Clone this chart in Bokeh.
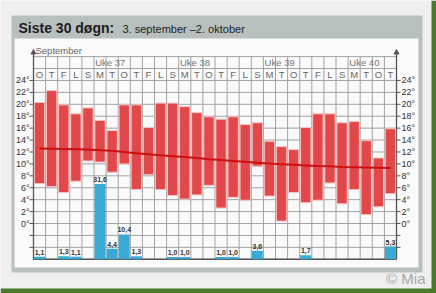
from bokeh.plotting import figure
from bokeh.models import Range1d
from bokeh.core.properties import value
from bokeh.embed import file_html
from bokeh.resources import INLINE

# ---------------- data ----------------
weekdays = ["O", "T", "F", "L", "S", "M", "T",
            "O", "T", "F", "L", "S", "M", "T",
            "O", "T", "F", "L", "S", "M", "T",
            "O", "T", "F", "L", "S", "M", "T",
            "O", "T"]
week_labels = ["Uke 37", "Uke 38", "Uke 39", "Uke 40"]
week_start_day = [5, 12, 19, 26]
t_max = [20.3, 22.3, 19.9, 18.4, 19.4, 17.3, 15.6, 19.9, 19.9, 16.1,
         20.2, 20.2, 19.6, 18.6, 17.9, 17.5, 17.9, 16.6, 16.9, 13.8,
         12.9, 12.4, 16.1, 18.4, 18.4, 16.9, 17.1, 13.9, 11.0, 15.9]
t_min = [6.7, 6.2, 5.2, 7.1, 10.5, 10.3, 8.6, 10.0, 5.7, 8.2,
         5.7, 4.7, 4.1, 4.8, 6.4, 2.6, 4.4, 3.9, 9.6, 4.6,
         0.4, 5.2, 3.5, 3.9, 6.8, 3.3, 5.7, 1.5, 2.8, 5.0]
t_normal = [12.6, 12.55, 12.5, 12.45, 12.4, 12.3, 12.2, 12.0, 11.8, 11.6,
            11.45, 11.3, 11.15, 11.0, 10.8, 10.65, 10.5, 10.35, 10.2, 10.05,
            9.95, 9.85, 9.75, 9.65, 9.6, 9.5, 9.45, 9.4, 9.35, 9.3]
precip = [1.1, 0, 1.3, 1.1, 0, 31.6, 4.4, 10.4, 1.3, 0,
          0, 1.0, 1.0, 0, 0, 1.0, 1.0, 0, 3.6, 0,
          0, 0, 1.7, 0, 0, 0, 0, 0, 0, 5.3]
temp_ticks = [0, 2, 4, 6, 8, 10, 12, 14, 16, 18, 20, 22, 24]

# ---------------- layout helpers ----------------
W, H = 436, 293
CW = 12.1      # px per day column
X0 = 33.0      # px of first column left edge
Y0 = 223.0     # px of 0 degrees
PY = 5.96      # px per degree
P_BASE = -6.0  # precipitation baseline (degree units)
P_SCALE = 0.4  # degree units per mm


def X(px):
    return (px - X0) / CW


def Y(py):
    return (Y0 - py) / PY


FONT = value("Liberation Sans")

p = figure(width=W, height=H,
           x_range=Range1d(X(0), X(W)), y_range=Range1d(Y(H), Y(0)),
           output_backend="svg", toolbar_location=None, min_border=0,
           x_axis_location=None, y_axis_location=None)
p.grid.visible = False
p.outline_line_color = None
p.background_fill_color = "#efefef"
p.border_fill_color = "#efefef"


def box(x0, y0, x1, y1, color):
    p.quad(left=X(x0), right=X(x1), top=Y(y0), bottom=Y(y1),
           fill_color=color, line_color=None)


# photo frame / green edges
box(431, 0, 436, 293, "#4a7a2c")
box(0, 288, 436, 293, "#4a7a2c")
# chart panel
box(11, 15, 422, 272, "#b8bfbf")
box(14, 38, 418, 267, "#fafafa")

# title
p.text(x=[X(18)], y=[Y(27)], text=["Siste 30 døgn:"], text_font=FONT,
       text_font_style="bold", text_font_size="14px", text_baseline="middle",
       text_color="#1c1c1c")
p.text(x=[X(122)], y=[Y(28)], text=["3. september \u20132. oktober"], text_font=FONT,
       text_font_size="11px", text_baseline="middle", text_color="#222222")

n = len(t_max)
xs = [i + 0.5 for i in range(n)]

# grid
gcol = "#a2a2a2"
hy = list(range(-6, 29, 2))
p.segment(x0=[0] * len(hy), x1=[n] * len(hy), y0=hy, y1=hy, line_color=gcol, line_width=1)
p.segment(x0=list(range(n + 1)), x1=list(range(n + 1)), y0=[P_BASE] * (n + 1),
          y1=[28] * (n + 1), line_color=gcol, line_width=1)

# axes
top_ax = Y(52)
p.segment(x0=[0, n], x1=[0, n], y0=[P_BASE, P_BASE], y1=[top_ax, top_ax],
          line_color="#555555", line_width=1.3)
p.segment(x0=[0], x1=[n], y0=[P_BASE], y1=[P_BASE], line_color="#555555", line_width=1.5)
p.scatter(x=[0, n], y=[top_ax, top_ax], marker="triangle", size=5,
          fill_color="#555555", line_color="#555555")
tick_vals = [-4, -2] + temp_ticks
p.segment(x0=[X(29)] * len(tick_vals), x1=[0] * len(tick_vals), y0=tick_vals, y1=tick_vals,
          line_color="#555555", line_width=1)
p.segment(x0=[n] * len(tick_vals), x1=[n + 4 / CW] * len(tick_vals), y0=tick_vals, y1=tick_vals,
          line_color="#555555", line_width=1)

# tick labels
labels = [f"{t}\u00b0" for t in temp_ticks]
p.text(x=[X(29)] * len(temp_ticks), y=temp_ticks, text=labels, text_font=FONT,
       text_font_size="9px", text_align="right", text_baseline="middle", text_color="#333333")
p.text(x=[n + 5 / CW] * len(temp_ticks), y=temp_ticks, text=labels, text_font=FONT,
       text_font_size="9px", text_align="left", text_baseline="middle", text_color="#333333")

# header texts in chart
p.text(x=[X(35)], y=[Y(50)], text=["September"], text_font=FONT, text_font_size="9.5px",
       text_baseline="middle", text_color="#666666")
p.text(x=[d + 0.1 for d in week_start_day], y=[27] * len(week_labels), text=week_labels,
       text_font=FONT, text_font_size="9.5px", text_baseline="middle", text_color="#777777")
p.text(x=xs, y=[25] * n, text=weekdays, text_font=FONT, text_font_size="9.5px",
       text_align="center", text_baseline="middle", text_color="#666666")

# temperature bars
p.vbar(x=xs, width=0.86, bottom=t_min, top=t_max, fill_color="#e2484a",
       line_color="#f6c4c4", line_width=1)

# normal line
p.line(x=xs, y=t_normal, line_color="#cc1010", line_width=2)

# precipitation bars
pt = [P_BASE + P_SCALE * v for v in precip]
px_ = [x for x, v in zip(xs, precip) if v > 0]
ptop = [t for t, v in zip(pt, precip) if v > 0]
p.vbar(x=px_, width=0.9, bottom=[P_BASE] * len(px_), top=ptop, fill_color="#38aad8",
       line_color=None)
plab = [f"{v:.1f}".replace(".", ",") for v in precip if v > 0]
p.text(x=px_, y=[t + 0.35 for t in ptop], text=plab, text_font=FONT, text_font_size="7px",
       text_font_style="bold", text_align="center", text_baseline="bottom", text_color="#333333")

# copyright
p.text(x=[X(425)], y=[Y(278)], text=["\u00a9 Mia"], text_font=FONT, text_font_size="15px",
       text_align="right", text_baseline="middle", text_color="#a8a8a8")

open("out.html", "w").write(file_html(p, INLINE))
